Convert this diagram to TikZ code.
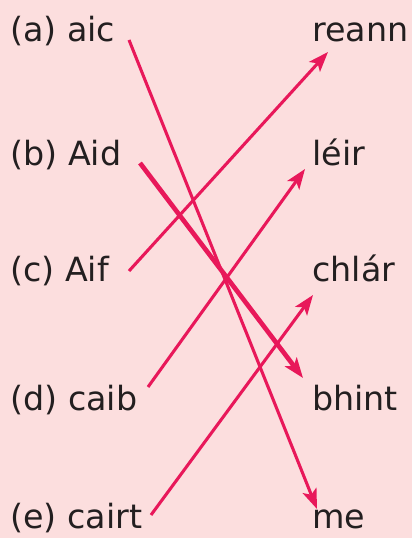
\documentclass[tikz,border=0pt]{standalone}
\usepackage{fontspec}
\setmainfont{DejaVu Sans}
\usepackage{xcolor}
\usetikzlibrary{arrows.meta, calc}

\definecolor{bgpink}{HTML}{FCDEDE}
\definecolor{linkred}{HTML}{E8185A}
\definecolor{inkdark}{HTML}{231F20}

\begin{document}
\begin{tikzpicture}[
    x=0.75pt, y=-0.75pt,
    focal/.style={anchor=base west, inner sep=0pt, text=inkdark, font=\fontsize{25}{29}\selectfont},
    nasc/.style={linkred, line width=2.3pt, -{Stealth[length=15pt, width=11pt, inset=3.5pt]}},
    nascmor/.style={nasc, line width=3.5pt}
  ]
    \fill[bgpink] (0,0) rectangle (412,538);
    \useasboundingbox (0,0) rectangle (412,538);
    % ceann na bhfocal
    \node[focal] (a) at (10,42) {(a) aic};
    \node[focal] (b) at (10,166) {(b) Aid};
    \node[focal] (c) at (10,281) {(c) Aif};
    \node[focal] (d) at (10,410) {(d) caib};
    \node[focal] (e) at (10,528) {(e) cairt};
    % deireadh na bhfocal
    \node[focal] (reann) at (312,42) {reann};
    \node[focal] (leir) at (312,166) {léir};
    \node[focal] (chlar) at (312,281) {chlár};
    \node[focal] (bhint) at (312,410) {bhint};
    \node[focal] (me) at (312,528) {me};
    % na saighde
    \draw[nasc] ($(a.base west)+(119,-2)$) -- ($(me.base west)+(5,-19)$);
    \draw[nascmor] ($(b.base west)+(130,-3)$) -- ($(bhint.base west)+(-9,-32)$);
    \draw[nasc] ($(c.base west)+(119,-10)$) -- ($(reann.base west)+(16,10)$);
    \draw[nasc] ($(d.base west)+(138,-23)$) -- ($(leir.base west)+(-7,3)$);
    \draw[nasc] ($(e.base west)+(141,-13)$) -- ($(chlar.base west)+(1,14)$);
\end{tikzpicture}
\end{document}
